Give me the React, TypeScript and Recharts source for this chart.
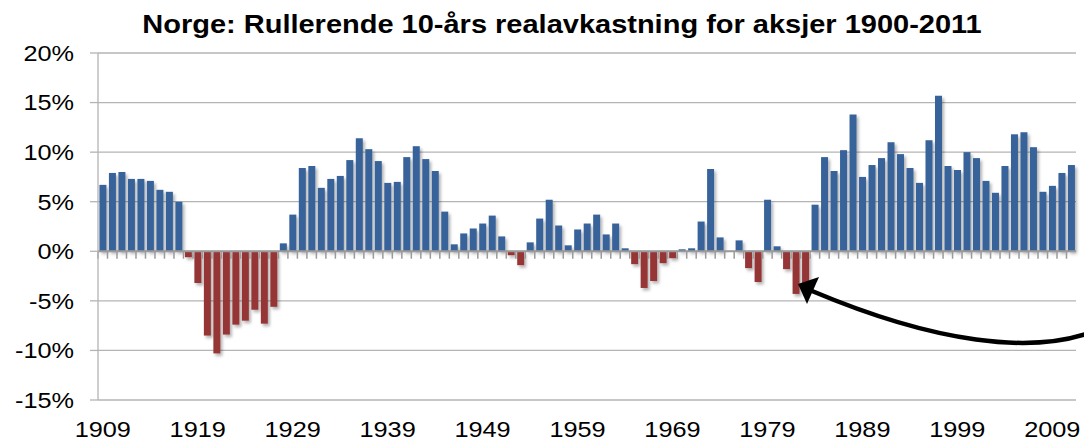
import React from "react";
import { BarChart, Bar, Cell, CartesianGrid, XAxis, YAxis, ReferenceLine } from "recharts";

// categories: end year of each rolling 10-year window
const years = [
  1909, 1910, 1911, 1912, 1913, 1914, 1915, 1916, 1917, 1918,
  1919, 1920, 1921, 1922, 1923, 1924, 1925, 1926, 1927, 1928,
  1929, 1930, 1931, 1932, 1933, 1934, 1935, 1936, 1937, 1938,
  1939, 1940, 1941, 1942, 1943, 1944, 1945, 1946, 1947, 1948,
  1949, 1950, 1951, 1952, 1953, 1954, 1955, 1956, 1957, 1958,
  1959, 1960, 1961, 1962, 1963, 1964, 1965, 1966, 1967, 1968,
  1969, 1970, 1971, 1972, 1973, 1974, 1975, 1976, 1977, 1978,
  1979, 1980, 1981, 1982, 1983, 1984, 1985, 1986, 1987, 1988,
  1989, 1990, 1991, 1992, 1993, 1994, 1995, 1996, 1997, 1998,
  1999, 2000, 2001, 2002, 2003, 2004, 2005, 2006, 2007, 2008,
  2009, 2010, 2011,
];

// rolling 10-year real return, percent
const returns = [
  6.7, 7.9, 8.0, 7.3, 7.3, 7.1, 6.2, 6.0, 5.0, -0.6,
  -3.2, -8.5, -10.3, -8.4, -7.4, -7.0, -5.9, -7.3, -5.6, 0.8,
  3.7, 8.4, 8.6, 6.4, 7.3, 7.6, 9.2, 11.4, 10.3, 9.1,
  6.9, 7.0, 9.5, 10.6, 9.3, 8.1, 4.0, 0.7, 1.8, 2.3,
  2.8, 3.6, 1.5, -0.4, -1.4, 0.9, 3.3, 5.2, 2.6, 0.6,
  2.2, 2.8, 3.7, 1.7, 2.8, 0.3, -1.3, -3.7, -3.0, -1.2,
  -0.7, 0.2, 0.3, 3.0, 8.3, 1.4, 0, 1.1, -1.7, -3.1,
  5.2, 0.5, -1.8, -4.3, -3.8, 4.7, 9.5, 8.1, 10.2, 13.8,
  7.5, 8.7, 9.4, 11.0, 9.8, 8.4, 6.9, 11.2, 15.7, 8.6,
  8.2, 10.0, 9.4, 7.1, 5.9, 8.6, 11.8, 12.0, 10.5, 6.0,
  6.6, 7.9, 8.7,
];

const yTicks = [-15, -10, -5, 0, 5, 10, 15, 20];

const title = "Norge: Rullerende 10-års realavkastning for aksjer 1900-2011";

const BLUE = "#37629a";
const RED = "#963634";
const GRID = "#b4b4b4";
const FONT = "'Liberation Sans', Arial, sans-serif";

const data = years.map((y, i) => ({ year: String(y), value: returns[i] }));

// the source picture is a bit stretched sideways, so text is too
const XTick = (props: any) => {
  const { x, y, payload } = props;
  return (
    <text
      transform={`translate(${x},${y}) scale(1.15,1)`}
      textAnchor="middle"
      dy="0.71em"
      fontSize={22}
      fontFamily={FONT}
      fill="#000"
    >
      {payload.value}
    </text>
  );
};

const YTick = (props: any) => {
  const { x, y, payload } = props;
  return (
    <text
      transform={`translate(${x},${y}) scale(1.15,1)`}
      textAnchor="end"
      dy="0.355em"
      fontSize={22}
      fontFamily={FONT}
      fill="#000"
    >
      {payload.value}%
    </text>
  );
};

export default function App() {
  return (
    <div style={{ position: "absolute", left: 0, top: 0, width: 1084, height: 441, background: "#fff", fontFamily: FONT }}>
      <svg width={0} height={0} style={{ position: "absolute" }}>
        <defs>
          <filter id="barShadow" filterUnits="userSpaceOnUse" x={0} y={0} width={1084} height={441}>
            <feDropShadow dx={2} dy={2.5} stdDeviation={1.5} floodColor="#000" floodOpacity={0.3} />
          </filter>
        </defs>
      </svg>

      <BarChart
        width={1084}
        height={441}
        data={data}
        margin={{ top: 53, right: 8, left: 0, bottom: 0 }}
        barCategoryGap="15%"
      >
        <CartesianGrid vertical={false} stroke={GRID} strokeWidth={1.3} />
        <XAxis
          dataKey="year"
          interval={9}
          axisLine={false}
          tickLine={false}
          tickSize={6}
          tickMargin={15}
          height={41}
          tick={<XTick />}
        />
        <YAxis
          domain={[-15, 20]}
          ticks={yTicks}
          width={98}
          axisLine={{ stroke: GRID, strokeWidth: 1.3 }}
          tickLine={{ stroke: GRID, strokeWidth: 1.3 }}
          tickSize={8}
          tickMargin={16}
          tick={<YTick />}
        />
        <Bar dataKey="value" isAnimationActive={false}>
          {data.map((d) => (
            <Cell key={d.year} fill={d.value < 0 ? RED : BLUE} filter="url(#barShadow)" />
          ))}
        </Bar>
        <ReferenceLine y={0} stroke="#9a9a9a" strokeWidth={2} />
        {years.map((y) => (
          <ReferenceLine
            key={`t${y}`}
            segment={[{ x: String(y), y: 0 }, { x: String(y), y: -0.75 }]}
            position="start"
            stroke="#9a9a9a"
            strokeWidth={1.5}
          />
        ))}
        <ReferenceLine
          segment={[{ x: String(years[years.length - 1]), y: 0 }, { x: String(years[years.length - 1]), y: -0.75 }]}
          position="end"
          stroke="#9a9a9a"
          strokeWidth={1.5}
        />
      </BarChart>

      <svg width={1084} height={441} style={{ position: "absolute", left: 0, top: 0, pointerEvents: "none" }}>
        <text
          transform="translate(562,33) scale(1.16,1)"
          textAnchor="middle"
          fontSize={25}
          fontWeight="bold"
          fontFamily={FONT}
          fill="#000"
        >
          {title}
        </text>
        <path d="M 1086 334 C 1030 352, 940 345, 812 291" fill="none" stroke="#000" strokeWidth={4.5} />
        <polygon points="798,284 819,277 807,304" fill="#000" />
      </svg>
    </div>
  );
}
